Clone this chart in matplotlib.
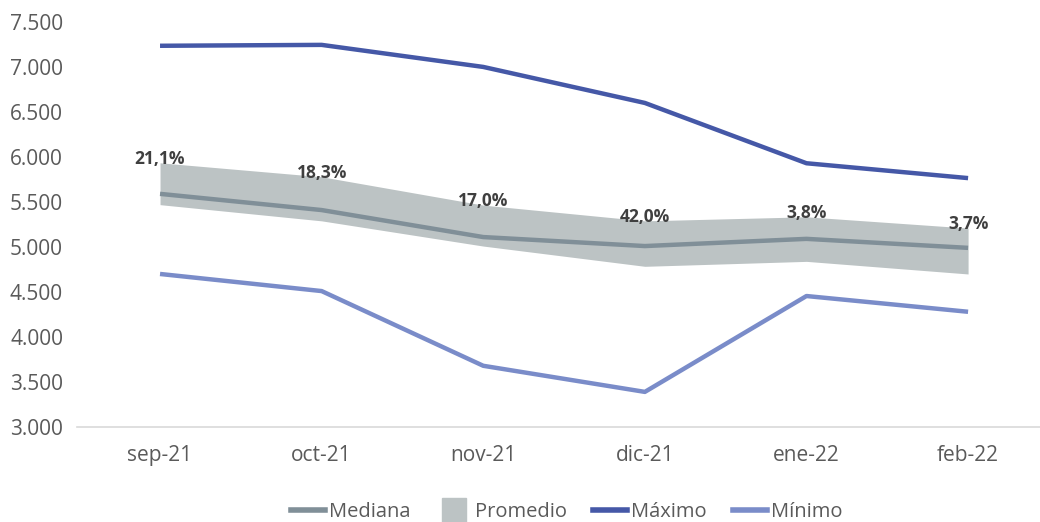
import numpy as np
import matplotlib.pyplot as plt
from matplotlib.lines import Line2D
from matplotlib.ticker import FuncFormatter

plt.rcParams['font.family'] = ['Open Sans', 'DejaVu Sans']

meses = ['sep-21', 'oct-21', 'nov-21', 'dic-21', 'ene-22', 'feb-22']
maximo = [7235, 7245, 7000, 6600, 5930, 5765]
minimo = [4700, 4510, 3680, 3390, 4455, 4280]
mediana = [5590, 5410, 5110, 5010, 5090, 4990]
prom_sup = [5935, 5780, 5465, 5290, 5335, 5210]
prom_inf = [5470, 5290, 5010, 4785, 4840, 4700]
etiquetas = ['21,1%', '18,3%', '17,0%', '42,0%', '3,8%', '3,7%']

c_max = '#4558A7'
c_min = '#7A8CC9'
c_med = '#808F98'
c_band = '#BCC3C4'

fig = plt.figure(figsize=(10.4, 5.22), dpi=100)
ax = fig.add_axes([0.074, 0.182, 0.926, 0.776])
x = np.arange(len(meses))

ax.fill_between(x, prom_inf, prom_sup, color=c_band, lw=0, zorder=1)
ax.plot(x, mediana, color=c_med, lw=3.2, zorder=2, solid_capstyle='butt')
ax.plot(x, maximo, color=c_max, lw=3.2, zorder=3, solid_capstyle='butt')
ax.plot(x, minimo, color=c_min, lw=3.2, zorder=3, solid_capstyle='butt')

for i, t in enumerate(etiquetas):
    ax.annotate(t, (x[i], prom_sup[i]), xytext=(0, 3), textcoords='offset points',
                ha='center', va='center', fontsize=12.5, fontweight='bold', color='#3F3F3F', zorder=4)

ax.set_xlim(-0.514, 5.445)
ax.set_ylim(3000, 7500)
ax.set_yticks(np.arange(3000, 7501, 500))
ax.yaxis.set_major_formatter(FuncFormatter(lambda v, p: f'{int(v):,}'.replace(',', '.')))
ax.set_xticks(x)
ax.set_xticklabels(meses)
ax.tick_params(axis='both', length=0, labelsize=15, labelcolor='#5A5A5A')
ax.tick_params(axis='x', pad=13)
ax.tick_params(axis='y', pad=10)
for s in ['left', 'right', 'top']:
    ax.spines[s].set_visible(False)
ax.spines['bottom'].set_color('#D9D9D9')
ax.spines['bottom'].set_linewidth(1.2)

handles = [
    Line2D([0], [0], color=c_med, lw=4),
    Line2D([0], [0], color=c_band, lw=0, marker='s', markersize=17),
    Line2D([0], [0], color=c_max, lw=4),
    Line2D([0], [0], color=c_min, lw=4),
]
fig.legend(handles, ['Mediana', 'Promedio', 'Máximo', 'Mínimo'], loc='lower center',
           bbox_to_anchor=(0.545, -0.035), ncol=4, frameon=False, fontsize=14.5,
           handlelength=1.7, handletextpad=0.2, columnspacing=1.3, labelcolor='#5A5A5A')

fig.savefig('out.png', dpi=100)
